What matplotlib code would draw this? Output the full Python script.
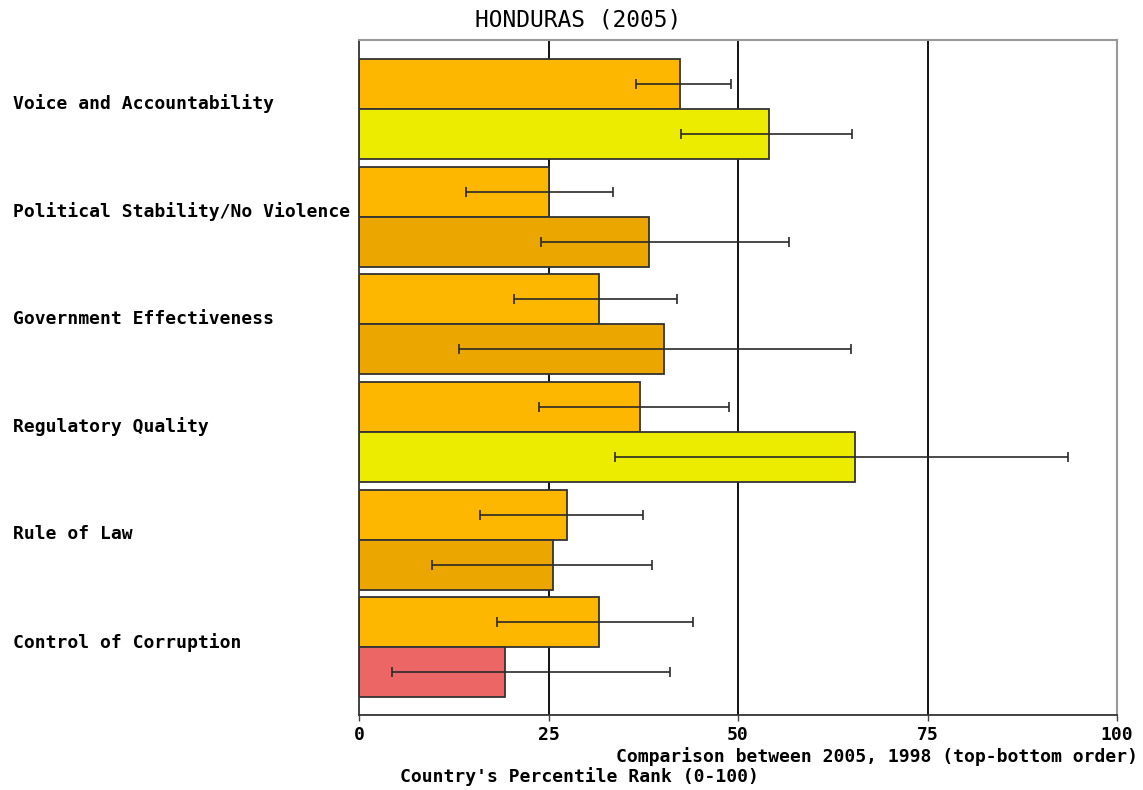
import numpy as np
import matplotlib
matplotlib.use("Agg")
import matplotlib.pyplot as plt
import matplotlib.transforms as mtransforms

# governance indicators, percentile rank (0-100)
categories = ["Voice and Accountability",
              "Political Stability/No Violence",
              "Government Effectiveness",
              "Regulatory Quality",
              "Rule of Law",
              "Control of Corruption"]

rank_2005 = [42.4, 25.0, 31.6, 37.1, 27.4, 31.6]
low_2005 = [36.5, 14.1, 20.4, 23.7, 16.0, 18.2]
high_2005 = [49.1, 33.5, 42.0, 48.8, 37.5, 44.1]

rank_1998 = [54.1, 38.3, 40.2, 65.5, 25.6, 19.2]
low_1998 = [42.5, 24.0, 13.2, 33.8, 9.6, 4.4]
high_1998 = [65.0, 56.7, 64.9, 93.6, 38.7, 41.0]

col_2005 = "#FDB700"
col_1998 = ["#ECEC00", "#EBA600", "#EBA600", "#ECEC00", "#EBA600", "#EC6666"]

plt.rcParams["font.family"] = "DejaVu Sans Mono"

fig = plt.figure(figsize=(11.43, 7.90), dpi=100)
ax = fig.add_axes([359 / 1143, 75 / 790, 758 / 1143, 675 / 790])

y = np.arange(len(categories))
h = 0.464

# reference lines at 25 / 50 / 75
for v in (25, 50, 75):
    ax.axvline(v, color="black", lw=1.3, zorder=0)

ax.barh(y - h / 2, rank_2005, height=h, color=col_2005,
        edgecolor="#333333", linewidth=1.3, zorder=2)
ax.barh(y + h / 2, rank_1998, height=h, color=col_1998,
        edgecolor="#333333", linewidth=1.3, zorder=2)

# confidence intervals
r5 = np.array(rank_2005)
r9 = np.array(rank_1998)
err5 = [r5 - np.array(low_2005), np.array(high_2005) - r5]
err9 = [r9 - np.array(low_1998), np.array(high_1998) - r9]
ax.errorbar(rank_2005, y - h / 2, xerr=err5, fmt="none", ecolor="#2a2a2a",
            elinewidth=1.2, capsize=3.3, capthick=1.2, zorder=3)
ax.errorbar(rank_1998, y + h / 2, xerr=err9, fmt="none", ecolor="#2a2a2a",
            elinewidth=1.2, capsize=3.3, capthick=1.2, zorder=3)

ax.set_xlim(0, 100)
ax.set_ylim(5.627, -0.64)
ax.set_xticks([0, 25, 50, 75, 100])
ax.set_xticklabels(["0", "25", "50", "75", "100"], fontweight="bold", fontsize=13)
ax.tick_params(axis="x", length=4, width=1, pad=4, color="#444444")
ax.set_yticks([])

for side in ("top", "right"):
    ax.spines[side].set_color("#999999")
    ax.spines[side].set_linewidth(1.5)
for side in ("left", "bottom"):
    ax.spines[side].set_color("#333333")
    ax.spines[side].set_linewidth(1.3)

# row labels, left aligned at the figure edge
trans = mtransforms.blended_transform_factory(fig.transFigure, ax.transData)
for i, name in enumerate(categories):
    ax.text(13 / 1143, i - 0.05, name, transform=trans, ha="left", va="center",
            fontsize=13, fontweight="bold")

fig.text(578 / 1143, 1 - 20 / 790, "HONDURAS (2005)", ha="center", va="center",
         fontsize=16.5)
fig.text(1138 / 1143, 1 - 757 / 790, "Comparison between 2005, 1998 (top-bottom order)",
         ha="right", va="center", fontsize=13, fontweight="bold")
fig.text(400 / 1143, 1 - 777 / 790, "Country's Percentile Rank (0-100)",
         ha="left", va="center", fontsize=13, fontweight="bold")

fig.savefig("out.png", dpi=100)
